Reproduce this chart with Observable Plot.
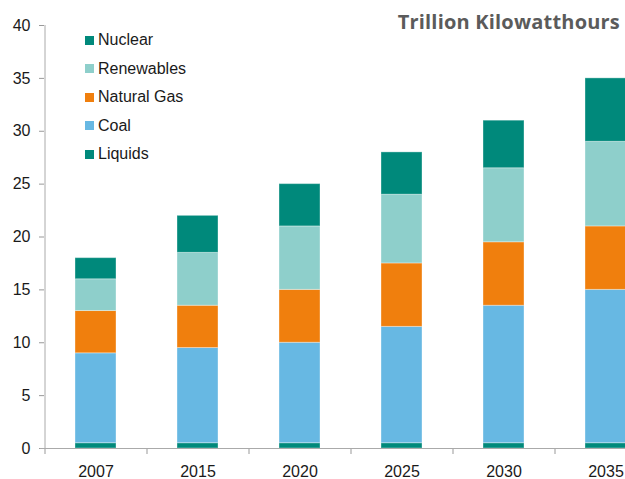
<!DOCTYPE html>
<html><head><meta charset="utf-8">
<script src="https://cdn.jsdelivr.net/npm/d3@7"></script>
<script src="https://cdn.jsdelivr.net/npm/@observablehq/plot@0.6"></script>
<style>
html,body{margin:0;padding:0;background:#fff;overflow:hidden;}
#wrap{position:relative;width:625px;height:479px;overflow:hidden;font-family:"Liberation Sans",Arial,sans-serif;}
#title{position:absolute;right:5px;top:8px;font-family:"Open Sans",sans-serif;font-weight:700;font-size:20px;color:#5b5b5b;letter-spacing:0.2px;}
#legend{position:absolute;left:85px;top:26px;font-size:16px;color:#1a1a1a;}
#legend .row{height:28.5px;display:flex;align-items:center;}
#legend .sw{width:9px;height:9px;margin-right:4px;}
</style></head>
<body><div id="wrap"><div id="title"></div><div id="legend"></div></div>
<script>
const years = ["2007","2015","2020","2025","2030","2035"];
const seriesOrder = ["Liquids","Coal","Natural Gas","Renewables","Nuclear"];
const legendOrder = ["Nuclear","Renewables","Natural Gas","Coal","Liquids"];
const liquids = [0.5,0.5,0.5,0.5,0.5,0.5];
const coal = [8.5,9,9.5,11,13,14.5];
const gas = [4,4,5,6,6,6];
const renewables = [3,5,6,6.5,7,8];
const nuclear = [2,3.5,4,4,4.5,6];
const colors = ["#00897b","#67b8e3","#f07f0d","#8ecfcb","#00897b"];
const yTicks = [0,5,10,15,20,25,30,35,40];
const titleText = "Trillion Kilowatthours";

const valuesBySeries = {"Liquids":liquids,"Coal":coal,"Natural Gas":gas,"Renewables":renewables,"Nuclear":nuclear};
const data = [];
seriesOrder.forEach(s => years.forEach((y,i) => data.push({year:y, series:s, value:valuesBySeries[s][i]})));

const chart = Plot.plot({
  width:625, height:479,
  marginLeft:44, marginRight:-31, marginTop:25, marginBottom:31,
  style:{fontFamily:"Liberation Sans, Arial, sans-serif", fontSize:"16px", color:"#1a1a1a", overflow:"hidden"},
  x:{domain:years, paddingInner:0.6, paddingOuter:0.3},
  y:{domain:[0,40]},
  color:{domain:seriesOrder, range:colors},
  marks:[
    Plot.barY(data,{x:"year", y:"value", fill:"series", order:seriesOrder, stroke:"white", strokeOpacity:0.35, strokeWidth:1}),
    Plot.axisY({ticks:yTicks, tickSize:5, tickPadding:9, stroke:"#999", label:null, fill:"#1a1a1a", fontSize:16}),
    Plot.ruleX([0],{x:()=>years[0], frameAnchor:"left", dx:-51, y1:0, y2:40, stroke:"#aaa"}),
    Plot.axisX({tickSize:6, tickFormat:()=>"", dx:-51, stroke:"#999", label:null}),
    Plot.axisX({tickSize:0, tickPadding:17, label:null, fill:"#1a1a1a", fontSize:16}),
    Plot.ruleY([0],{stroke:"#aaa", insetLeft:-4})
  ]
});
const wrap = document.getElementById("wrap");
wrap.insertBefore(chart, wrap.firstChild);
document.getElementById("title").textContent = titleText;
const leg = document.getElementById("legend");
legendOrder.forEach(s => {
  const r = document.createElement("div"); r.className="row";
  const sw = document.createElement("div"); sw.className="sw"; sw.style.background = colors[seriesOrder.indexOf(s)];
  const t = document.createElement("span"); t.textContent = s;
  r.appendChild(sw); r.appendChild(t); leg.appendChild(r);
});
</script></body></html>
